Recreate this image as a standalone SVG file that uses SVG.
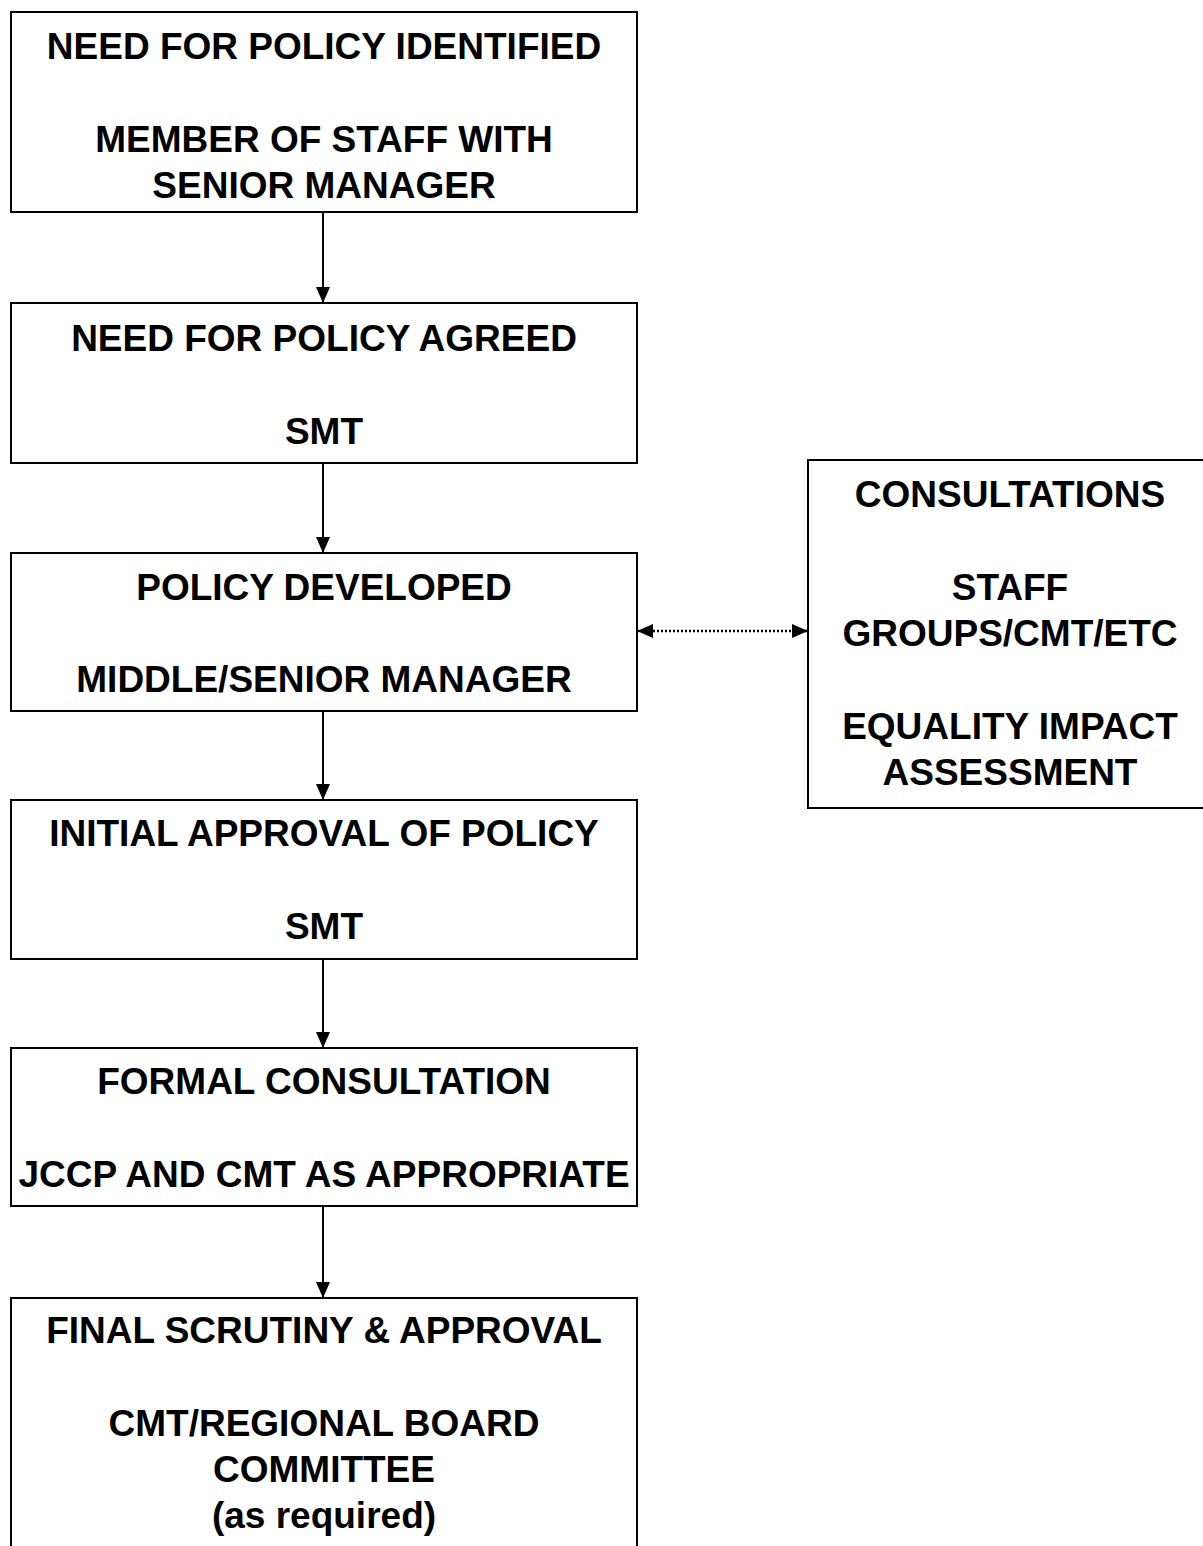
<svg xmlns="http://www.w3.org/2000/svg" width="1203" height="1546" viewBox="0 0 1203 1546">
<style>
.box{fill:#fff;stroke:#000;stroke-width:2}
.t{font-family:"Liberation Sans",Arial,sans-serif;font-weight:bold;font-size:37px;fill:#000;text-anchor:middle}
.c{stroke:#000;stroke-width:2;fill:none}
.d{stroke:#000;stroke-width:2.5;fill:none;stroke-dasharray:2 2}
</style>
<defs>
<marker id="ah" viewBox="0 0 16 14" refX="16" refY="7" markerWidth="16" markerHeight="14" markerUnits="userSpaceOnUse" orient="auto">
<path d="M0,0 L16,7 L0,14 Z" fill="#000"/>
</marker>
<marker id="ahs" viewBox="0 0 16 14" refX="0" refY="7" markerWidth="16" markerHeight="14" markerUnits="userSpaceOnUse" orient="auto">
<path d="M16,0 L0,7 L16,14 Z" fill="#000"/>
</marker>
</defs>
<rect width="1203" height="1546" fill="#fff"/>
<g id="connectors">
<line class="c" x1="323" y1="212" x2="323" y2="303" marker-end="url(#ah)"/>
<line class="c" x1="323" y1="463" x2="323" y2="553" marker-end="url(#ah)"/>
<line class="c" x1="323" y1="711" x2="323" y2="800" marker-end="url(#ah)"/>
<line class="c" x1="323" y1="959" x2="323" y2="1048" marker-end="url(#ah)"/>
<line class="c" x1="323" y1="1206" x2="323" y2="1298" marker-end="url(#ah)"/>
<line class="d" x1="637" y1="631" x2="808" y2="631" marker-start="url(#ahs)" marker-end="url(#ah)"/>
</g>
<g id="n1">
<rect class="box" x="11" y="12" width="626" height="200"/>
<text class="t" x="324" y="59">NEED FOR POLICY IDENTIFIED</text>
<text class="t" x="324" y="152">MEMBER OF STAFF WITH</text>
<text class="t" x="324" y="198">SENIOR MANAGER</text>
</g>
<g id="n2">
<rect class="box" x="11" y="303" width="626" height="160"/>
<text class="t" x="324" y="351">NEED FOR POLICY AGREED</text>
<text class="t" x="324" y="444">SMT</text>
</g>
<g id="n3">
<rect class="box" x="11" y="553" width="626" height="158"/>
<text class="t" x="324" y="600">POLICY DEVELOPED</text>
<text class="t" x="324" y="692">MIDDLE/SENIOR MANAGER</text>
</g>
<g id="n4">
<rect class="box" x="11" y="800" width="626" height="159"/>
<text class="t" x="324" y="846">INITIAL APPROVAL OF POLICY</text>
<text class="t" x="324" y="939">SMT</text>
</g>
<g id="n5">
<rect class="box" x="11" y="1048" width="626" height="158"/>
<text class="t" x="324" y="1094">FORMAL CONSULTATION</text>
<text class="t" x="324" y="1187">JCCP AND CMT AS APPROPRIATE</text>
</g>
<g id="n6">
<rect class="box" x="11" y="1298" width="626" height="270"/>
<text class="t" x="324" y="1343">FINAL SCRUTINY &amp; APPROVAL</text>
<text class="t" x="324" y="1436">CMT/REGIONAL BOARD</text>
<text class="t" x="324" y="1482">COMMITTEE</text>
<text class="t" x="324" y="1528">(as required)</text>
</g>
<g id="n7">
<rect class="box" x="808" y="460" width="400" height="348"/>
<text class="t" x="1010" y="507">CONSULTATIONS</text>
<text class="t" x="1010" y="600">STAFF</text>
<text class="t" x="1010" y="646">GROUPS/CMT/ETC</text>
<text class="t" x="1010" y="739">EQUALITY IMPACT</text>
<text class="t" x="1010" y="785">ASSESSMENT</text>
</g>
</svg>
